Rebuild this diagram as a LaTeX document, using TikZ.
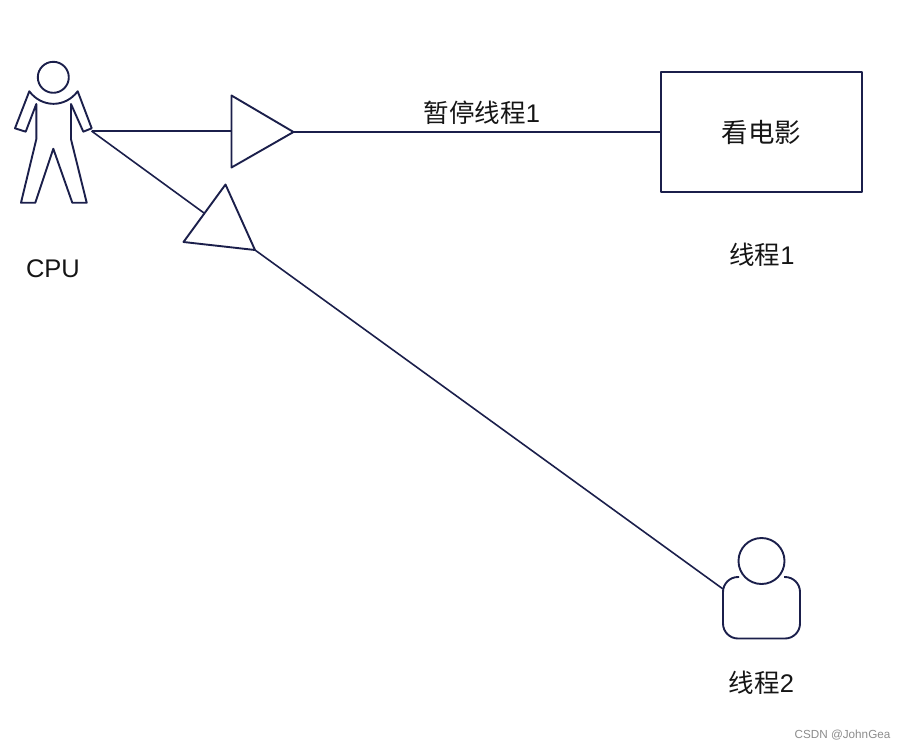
\documentclass[tikz,border=0pt]{standalone}
\usepackage{fontspec}
\setmainfont{Liberation Sans}
\newfontfamily\cjk{Noto Sans CJK SC}
\usepackage{xcolor}
\definecolor{inkline}{HTML}{1B1F4B}
\definecolor{inktext}{HTML}{151515}
\tikzset{
	shapeline/.style={draw=inkline,line width=1.9pt,line join=round},
	wire/.style={draw=inkline,line width=1.6pt},
	label/.style={text=inktext,inner sep=0pt,font=\fontsize{25.5}{26}\selectfont},
	watermark/.style={text=black!45,inner sep=0pt,font=\fontsize{11.7}{12}\selectfont}
}

\begin{document}
\begin{tikzpicture}[x=1pt,y=-1pt]
	\useasboundingbox (0,0) rectangle (906,750);

	\coordinate (hand) at (91.5,131);
	\coordinate (t1a) at (231.5,95.5);
	\coordinate (t1b) at (293.5,132);
	\coordinate (t1c) at (231.5,167.5);
	\coordinate (t1in) at (231.5,131);
	\coordinate (t2a) at (225.5,184.5);
	\coordinate (t2b) at (255,250);
	\coordinate (t2c) at (183.5,242);
	\coordinate (t2in) at (204,213);
	\coordinate (body) at (723,589);

	\node[shapeline,minimum width=201pt,minimum height=120pt,inner sep=0pt,label] (movie) at (761.5,132) {\cjk\fontsize{26.5}{27}\selectfont 看电影};
	\node[shapeline,circle,minimum size=31pt,inner sep=0pt] (cpuhead) at (53.3,77.3) {};
	\node[shapeline,circle,minimum size=46pt,inner sep=0pt] (head) at (761.5,561) {};

	\draw[shapeline] (29.3,91.3) .. controls (42,108) and (65,108) .. (77.7,91.3)
		-- (91.7,128.3) -- (83.3,131.7) -- (71,104) -- (71,139.3) -- (86.7,202.7) -- (72.3,202.7)
		-- (53.3,148.7) -- (35.3,202.7) -- (21,202.7) -- (36.3,139.3) -- (36.3,104)
		-- (25.7,131.7) -- (15,128.3) -- cycle;
	\draw[shapeline] (t1a) -- (t1b) -- (t1c) -- cycle;
	\draw[shapeline] (t2a) -- (t2b) -- (t2c) -- cycle;
	\draw[shapeline,rounded corners=15pt] (739,577) -- (723,577) -- (723,638.5) -- (800,638.5) -- (800,577) -- (784,577);

	\draw[wire] (hand) -- (t1in);
	\draw[wire] (t1b) -- (movie.west);
	\draw[wire] (hand) -- (t2in);
	\draw[wire] (t2b) -- (body);

	\node[label] (pause) at (482,113) {{\cjk 暂停线程}1};
	\node[label] (cpu) at (53,269) {CPU};
	\node[label] (one) at (762,255) {{\cjk 线程}1};
	\node[label] (two) at (761.5,683) {{\cjk 线程}2};
	\node[watermark] (mark) at (842.5,735) {CSDN @JohnGea};
\end{tikzpicture}
\end{document}
